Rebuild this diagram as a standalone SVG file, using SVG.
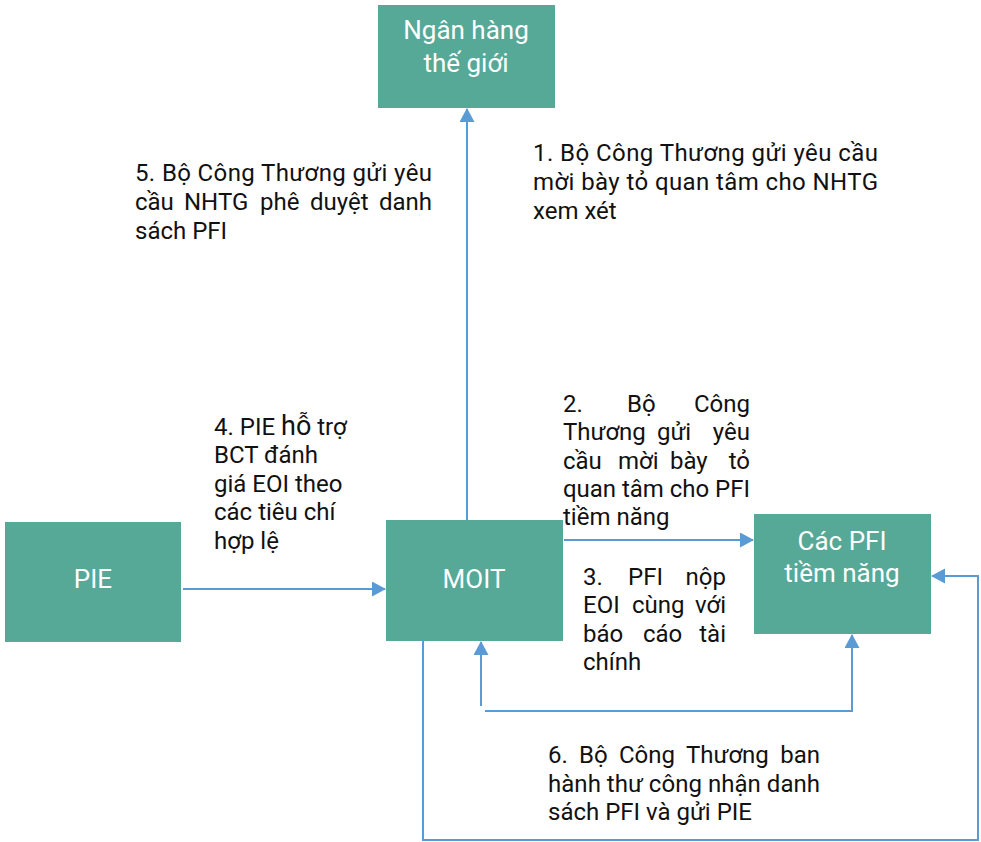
<svg xmlns="http://www.w3.org/2000/svg" width="981" height="842" viewBox="0 0 981 842">
<style>
.box{fill:#56A897;}
.bt{font-family:Roboto,"Liberation Sans",sans-serif;font-size:26px;fill:#ffffff;text-anchor:middle;}
.lb{font-family:Roboto,"Liberation Sans",sans-serif;font-size:24px;fill:#111111;}
.c{fill:none;stroke:#5B9BD5;stroke-width:2;}
</style>
<defs>
<marker id="ah" markerUnits="userSpaceOnUse" markerWidth="16" markerHeight="16" refX="13" refY="7.5" orient="auto">
<path d="M0,0 L14,7.5 L0,15 Z" fill="#5B9BD5"/>
</marker>
</defs>
<rect width="981" height="842" fill="#ffffff"/>
<g id="connectors">
<path class="c" d="M467,520 L467,109" marker-end="url(#ah)"/>
<path class="c" d="M183,589 L385,589" marker-end="url(#ah)"/>
<path class="c" d="M564,540 L753,540" marker-end="url(#ah)"/>
<path class="c" d="M481,706 L481,642" marker-end="url(#ah)"/>
<path class="c" d="M485,711 L852,711 L852,635" marker-end="url(#ah)"/>
<path class="c" d="M423,641 L423,840 L978,840 L978,576 L932,576" marker-end="url(#ah)"/>
</g>
<g id="node-nhtg">
<rect class="box" x="378" y="5" width="177" height="103"/>
<text class="bt" x="466" y="39">Ngân hàng</text>
<text class="bt" x="466" y="72">thế giới</text>
</g>
<g id="node-pie">
<rect class="box" x="5" y="522" width="176" height="120"/>
<text class="bt" x="93" y="588">PIE</text>
</g>
<g id="node-moit">
<rect class="box" x="386" y="520" width="177" height="121"/>
<text class="bt" x="474" y="588">MOIT</text>
</g>
<g id="node-pfi">
<rect class="box" x="754" y="514" width="177" height="120"/>
<text class="bt" x="842" y="550">Các PFI</text>
<text class="bt" x="842" y="582">tiềm năng</text>
</g>
<g id="labels">
<text class="lb" x="533" y="161" textLength="345" lengthAdjust="spacing">1. Bộ Công Thương gửi yêu cầu</text>
<text class="lb" x="533" y="190" textLength="345" lengthAdjust="spacing">mời bày tỏ quan tâm cho NHTG</text>
<text class="lb" x="533" y="219">xem xét</text>

<text class="lb" x="135" y="181" textLength="297" lengthAdjust="spacing">5. Bộ Công Thương gửi yêu</text>
<text class="lb" y="210"><tspan x="135">cầu</tspan><tspan x="184">NHTG</tspan><tspan x="260">phê</tspan><tspan x="310">duyệt</tspan></text>
<text class="lb" x="432" y="210" text-anchor="end">danh</text>
<text class="lb" x="135" y="239">sách PFI</text>

<text class="lb" x="214" y="435">4. PIE <tspan font-size="27">hỗ</tspan> trợ</text>
<text class="lb" x="214" y="463">BCT đánh</text>
<text class="lb" x="214" y="492">giá EOI theo</text>
<text class="lb" x="214" y="520">các tiêu chí</text>
<text class="lb" x="214" y="549">hợp lệ</text>

<text class="lb" y="412"><tspan x="563">2.</tspan><tspan x="627">Bộ</tspan></text>
<text class="lb" x="750" y="412" text-anchor="end">Công</text>
<text class="lb" y="440"><tspan x="563">Thương</tspan><tspan x="657">gửi</tspan></text>
<text class="lb" x="750" y="440" text-anchor="end">yêu</text>
<text class="lb" y="469"><tspan x="563">cầu</tspan><tspan x="618">mời</tspan><tspan x="670">bày</tspan></text>
<text class="lb" x="750" y="469" text-anchor="end">tỏ</text>
<text class="lb" x="563" y="497" textLength="187" lengthAdjust="spacing">quan tâm cho PFI</text>
<text class="lb" x="563" y="525">tiềm năng</text>

<text class="lb" y="585"><tspan x="583">3.</tspan><tspan x="628">PFI</tspan></text>
<text class="lb" x="726" y="585" text-anchor="end">nộp</text>
<text class="lb" y="613"><tspan x="583">EOI</tspan><tspan x="632">cùng</tspan></text>
<text class="lb" x="726" y="613" text-anchor="end">với</text>
<text class="lb" y="642"><tspan x="583">báo</tspan><tspan x="643">cáo</tspan></text>
<text class="lb" x="726" y="642" text-anchor="end">tài</text>
<text class="lb" x="583" y="670">chính</text>

<text class="lb" y="763"><tspan x="548">6.</tspan><tspan x="579">Bộ</tspan><tspan x="619">Công</tspan><tspan x="686">Thương</tspan></text>
<text class="lb" x="820" y="763" text-anchor="end">ban</text>
<text class="lb" x="548" y="792" textLength="272" lengthAdjust="spacing">hành thư công nhận danh</text>
<text class="lb" x="548" y="820">sách PFI và gửi PIE</text>
</g>
</svg>
